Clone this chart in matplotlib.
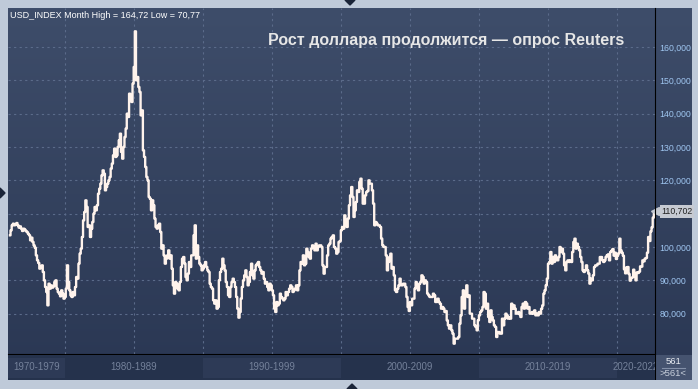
import numpy as np
import matplotlib.pyplot as plt
from matplotlib.patches import Rectangle, Polygon

# monthly USD index closes, Jan 1976 .. Sep 2022 (561 bars)
start_year = 1976
dxy_close = [
    103.5, 105.0, 106.5, 107.0, 106.5, 106.8, 107.2, 106.5, 105.8, 106.2, 105.5, 104.8,  # 1976
    105.5, 105.2, 104.8, 104.5, 104.0, 103.5, 102.0, 102.8, 101.5, 100.5, 99.8, 97.5,    # 1977
    96.0, 95.2, 93.5, 93.8, 94.5, 92.5, 90.0, 88.0, 86.5, 82.5, 89.0, 87.5,              # 1978
    88.5, 87.8, 88.2, 89.5, 90.0, 87.5, 86.5, 86.0, 85.2, 87.0, 86.0, 84.5,              # 1979
    85.0, 87.5, 94.5, 89.5, 87.0, 85.5, 85.0, 86.5, 85.5, 88.0, 91.0, 90.5,              # 1980
    95.0, 98.0, 99.5, 103.0, 108.0, 110.5, 114.0, 112.0, 106.0, 106.5, 103.0, 105.5,     # 1981
    107.5, 110.0, 112.0, 111.0, 112.5, 116.0, 117.5, 119.0, 121.5, 123.0, 122.0, 117.0,  # 1982
    118.0, 119.0, 120.0, 121.0, 123.5, 125.0, 127.5, 129.5, 127.0, 127.5, 130.0, 132.0,  # 1983
    134.0, 128.5, 126.5, 130.0, 133.0, 135.5, 140.0, 139.0, 146.0, 145.5, 143.5, 149.0,  # 1984
    154.0, 164.7, 150.0, 151.0, 148.0, 146.5, 139.5, 141.0, 129.0, 127.0, 124.0, 121.0,  # 1985
    120.0, 115.0, 114.5, 111.0, 114.0, 112.5, 108.5, 106.0, 105.5, 106.5, 107.0, 104.5,  # 1986
    99.5, 100.5, 97.5, 95.0, 96.5, 97.5, 99.0, 96.5, 97.5, 93.5, 88.5, 86.0,             # 1987
    89.5, 89.0, 87.5, 87.0, 89.5, 94.0, 96.5, 97.0, 95.0, 91.0, 90.0, 92.0,              # 1988
    95.5, 94.0, 97.5, 97.5, 103.5, 106.5, 96.5, 100.5, 97.0, 95.0, 94.5, 93.0,           # 1989
    93.5, 94.5, 95.5, 94.0, 93.0, 92.5, 89.0, 88.0, 87.5, 84.0, 83.0, 84.0,              # 1990
    81.5, 82.0, 90.0, 92.5, 93.5, 96.5, 94.5, 93.0, 89.5, 88.0, 85.5, 85.0,              # 1991
    88.0, 89.5, 90.5, 89.5, 88.0, 85.0, 81.5, 78.8, 80.5, 84.5, 88.0, 90.0,              # 1992
    91.5, 93.0, 91.0, 88.5, 89.5, 92.5, 95.0, 91.5, 90.5, 93.0, 94.5, 95.0,              # 1993
    95.5, 94.0, 93.0, 92.0, 92.5, 90.5, 89.0, 89.5, 88.0, 87.0, 89.0, 88.5,              # 1994
    87.0, 85.5, 81.5, 80.5, 83.5, 82.5, 83.0, 86.0, 85.0, 84.5, 84.0, 84.5,              # 1995
    86.5, 85.5, 86.5, 87.5, 88.5, 88.0, 86.5, 87.0, 87.5, 88.5, 87.0, 88.5,              # 1996
    93.0, 95.5, 95.0, 97.5, 94.5, 95.0, 99.5, 98.5, 97.0, 96.5, 99.5, 100.5,             # 1997
    100.0, 99.0, 101.0, 99.0, 100.0, 100.5, 100.5, 100.0, 94.5, 92.0, 94.0, 94.0,        # 1998
    97.5, 100.5, 101.0, 102.5, 103.0, 103.5, 100.0, 99.5, 98.0, 98.5, 101.5, 101.8,      # 1999
    105.0, 106.0, 105.5, 109.5, 106.5, 106.0, 108.5, 112.5, 115.5, 118.0, 115.0, 109.0,  # 2000
    111.0, 113.5, 117.0, 116.5, 119.5, 120.5, 117.5, 113.0, 113.0, 115.5, 116.5, 116.8,  # 2001
    120.0, 119.0, 119.0, 117.0, 113.0, 106.5, 107.5, 107.0, 106.5, 106.5, 106.0, 102.5,  # 2002
    100.5, 100.0, 100.0, 97.5, 93.0, 95.5, 97.0, 98.0, 93.5, 94.0, 91.5, 87.0,           # 2003
    86.5, 87.5, 88.5, 90.5, 88.5, 88.5, 89.0, 89.0, 88.0, 85.0, 82.0, 80.8,              # 2004
    83.5, 82.5, 84.5, 84.5, 87.5, 89.5, 88.0, 87.0, 89.0, 89.5, 91.5, 91.0,              # 2005
    89.0, 90.0, 89.5, 86.0, 85.5, 85.0, 85.0, 85.0, 86.0, 85.5, 83.5, 83.5,              # 2006
    84.5, 83.5, 83.0, 81.5, 82.0, 81.5, 80.5, 80.8, 78.0, 76.5, 75.5, 76.5,              # 2007
    75.0, 74.0, 71.0, 72.5, 72.5, 72.5, 73.0, 77.0, 79.5, 85.0, 87.0, 81.5,              # 2008
    86.0, 88.5, 85.0, 85.5, 80.0, 80.0, 78.5, 78.5, 76.5, 76.0, 75.0, 78.0,              # 2009
    79.5, 80.5, 81.0, 82.0, 86.5, 86.0, 81.5, 83.0, 79.0, 77.5, 81.0, 79.0,              # 2010
    78.0, 76.5, 76.0, 73.0, 74.5, 74.5, 74.0, 74.0, 78.5, 76.5, 78.5, 80.0,              # 2011
    79.5, 78.5, 79.0, 78.5, 83.0, 81.5, 82.5, 81.5, 80.0, 80.0, 80.5, 79.8,              # 2012
    79.0, 82.0, 83.0, 81.5, 83.5, 83.0, 81.5, 82.0, 80.0, 80.0, 80.5, 80.0,              # 2013
    81.0, 79.5, 80.0, 79.5, 80.5, 80.0, 81.5, 82.5, 86.0, 87.0, 88.5, 90.5,              # 2014
    95.0, 95.5, 98.5, 95.0, 97.0, 95.5, 97.5, 96.0, 96.0, 97.0, 100.0, 98.5,             # 2015
    99.5, 98.0, 94.5, 93.0, 95.5, 96.0, 95.5, 96.0, 95.5, 98.5, 101.5, 102.5,            # 2016
    99.5, 101.0, 100.0, 99.0, 97.0, 95.5, 93.0, 92.5, 93.0, 94.5, 93.0, 92.0,            # 2017
    89.0, 90.5, 90.0, 91.5, 94.0, 94.5, 94.5, 95.0, 95.0, 97.0, 97.0, 96.0,              # 2018
    95.5, 96.0, 97.0, 97.5, 97.8, 96.0, 98.5, 98.9, 99.4, 97.4, 98.3, 96.4,              # 2019
    97.4, 98.1, 102.5, 99.0, 98.3, 97.4, 93.3, 92.1, 93.9, 94.0, 91.9, 89.9,             # 2020
    90.6, 90.9, 93.2, 91.3, 90.0, 92.4, 92.2, 92.6, 94.2, 94.1, 96.0, 95.7,              # 2021
    96.5, 96.7, 98.3, 103.0, 101.8, 104.7, 105.9, 108.8, 110.702,                       # 2022
]
y_ticks = [80, 90, 100, 110, 120, 130, 140, 150, 160]
decades = ['1970-1979', '1980-1989', '1990-1999', '2000-2009', '2010-2019', '2020-2022']
decade_starts = [1970, 1980, 1990, 2000, 2010, 2020]
header = 'USD_INDEX Month High = 164,72 Low = 70,77'
title = 'Рост доллара продолжится — опрос Reuters'
bar_count = '561'

t = start_year + (np.arange(len(dxy_close)) + 0.5) / 12.0
x0, x1 = 1975.9, 2022.75
y0, y1 = 67.9, 171.7

W, H = 698, 389
fig = plt.figure(figsize=(W / 100, H / 100), dpi=100, facecolor='#bfcad9')

def px_axes(l, t_, r, b):
    return fig.add_axes([l / W, 1 - b / H, (r - l) / W, (b - t_) / H])

# gradient background for chart + price scale
bg = px_axes(8, 8, 692, 380)
grad = np.linspace(0, 1, 256)[:, None]
top, bot = np.array([62, 77, 106]) / 255, np.array([42, 55, 83]) / 255
bg.imshow(top + (bot - top) * grad[..., None] * np.ones((1, 2, 1)), aspect='auto', extent=[0, 1, 0, 1])
bg.axis('off')

ax = px_axes(8, 8, 655, 354)
ax.set_facecolor('none')
ax.plot(t, dxy_close, color='#fff3ec', lw=1.7, drawstyle='steps-mid')
ax.set_xlim(x0, x1)
ax.set_ylim(y0, y1)
for yr in range(1980, 2021, 5):
    ax.axvline(yr, color='#5b6b8a', lw=0.8, ls=(0, (2, 3)), zorder=0)
for v in y_ticks:
    ax.axhline(v, color='#5b6b8a', lw=0.8, ls=(0, (2, 3)), zorder=0)
ax.yaxis.tick_right()
ax.set_yticks(y_ticks)
# the 110 label sits under the last-value marker
ax.set_yticklabels(['' if v == 110 else f'{v},000' for v in y_ticks],
                   fontsize=6.3, color='#9fc6f0', family='Liberation Sans')
ax.tick_params(axis='y', length=0, pad=3)
ax.set_xticks([])
for s in ['top', 'left']:
    ax.spines[s].set_visible(False)
ax.spines['right'].set_color('black')
ax.spines['bottom'].set_color('black')

ax.text(0.003, 0.978, header, transform=ax.transAxes, fontsize=6.5, color='white',
        family='Liberation Sans', va='center', ha='left')
ax.text(0.677, 0.907, title, transform=ax.transAxes, fontsize=11.5, color='#e6e6e6',
        family='Liberation Sans', weight='bold', ha='center', va='center')

# last value label
last = dxy_close[-1]
ax.annotate(f'{last:,.3f}'.replace('.', ','), xy=(1.0, last), xycoords=('axes fraction', 'data'),
            xytext=(4.5, 0), textcoords='offset points', fontsize=6.3, color='#222222',
            family='Liberation Sans', va='center', ha='left', annotation_clip=False,
            bbox=dict(boxstyle='square,pad=0.2', fc='#c6cad2', ec='none'))
ax.plot([1.0], [last], marker='<', ms=6, color='#c6cad2', transform=ax.get_yaxis_transform(),
        clip_on=False)

# decade strip
dax = px_axes(8, 355, 655, 380)
dax.set_xlim(x0, x1)
dax.set_ylim(0, 1)
dax.set_facecolor('#25324c')
for i, (d, s) in enumerate(zip(decades, decade_starts)):
    a, b = max(s, x0), min(s + 10, x1)
    if i % 2 == 0:
        dax.add_patch(Rectangle((a, 0.1), b - a, 0.8, color='#2d3a56', lw=0))
    dax.text((a + b) / 2, 0.5, d, fontsize=7, color='#74819a', family='Liberation Sans',
             ha='center', va='center')
dax.set_xticks([])
dax.set_yticks([])
for s in dax.spines.values():
    s.set_visible(False)

cax = px_axes(655, 355, 692, 380)
cax.set_facecolor('#45536f')
cax.set_xticks([])
cax.set_yticks([])
for s in cax.spines.values():
    s.set_visible(False)
cax.plot([0.2, 0.8], [0.5, 0.5], color='#8390a8', lw=0.8)
cax.axvline(0, color='black', lw=1.5)
cax.set_xlim(0, 1)
cax.set_ylim(0, 1)
cax.text(0.5, 0.75, bar_count, fontsize=6.8, color='#e8ecf2', ha='center', va='center',
         family='Liberation Sans')
cax.text(0.5, 0.25, f'>{bar_count}<', fontsize=6.8, color='#c8d0dc', ha='center', va='center',
         family='Liberation Sans')

# small frame markers
mk = '#1a2438'
for pts in ([[345, 0], [355, 0], [350, 5]],
            [[0, 188], [0, 198], [5, 193]],
            [[347, 389], [357, 389], [352, 384]]):
    fig.patches.append(Polygon([[x / W, 1 - y / H] for x, y in pts], closed=True,
                               transform=fig.transFigure, color=mk))

fig.savefig('out.png', dpi=100, facecolor=fig.get_facecolor())
